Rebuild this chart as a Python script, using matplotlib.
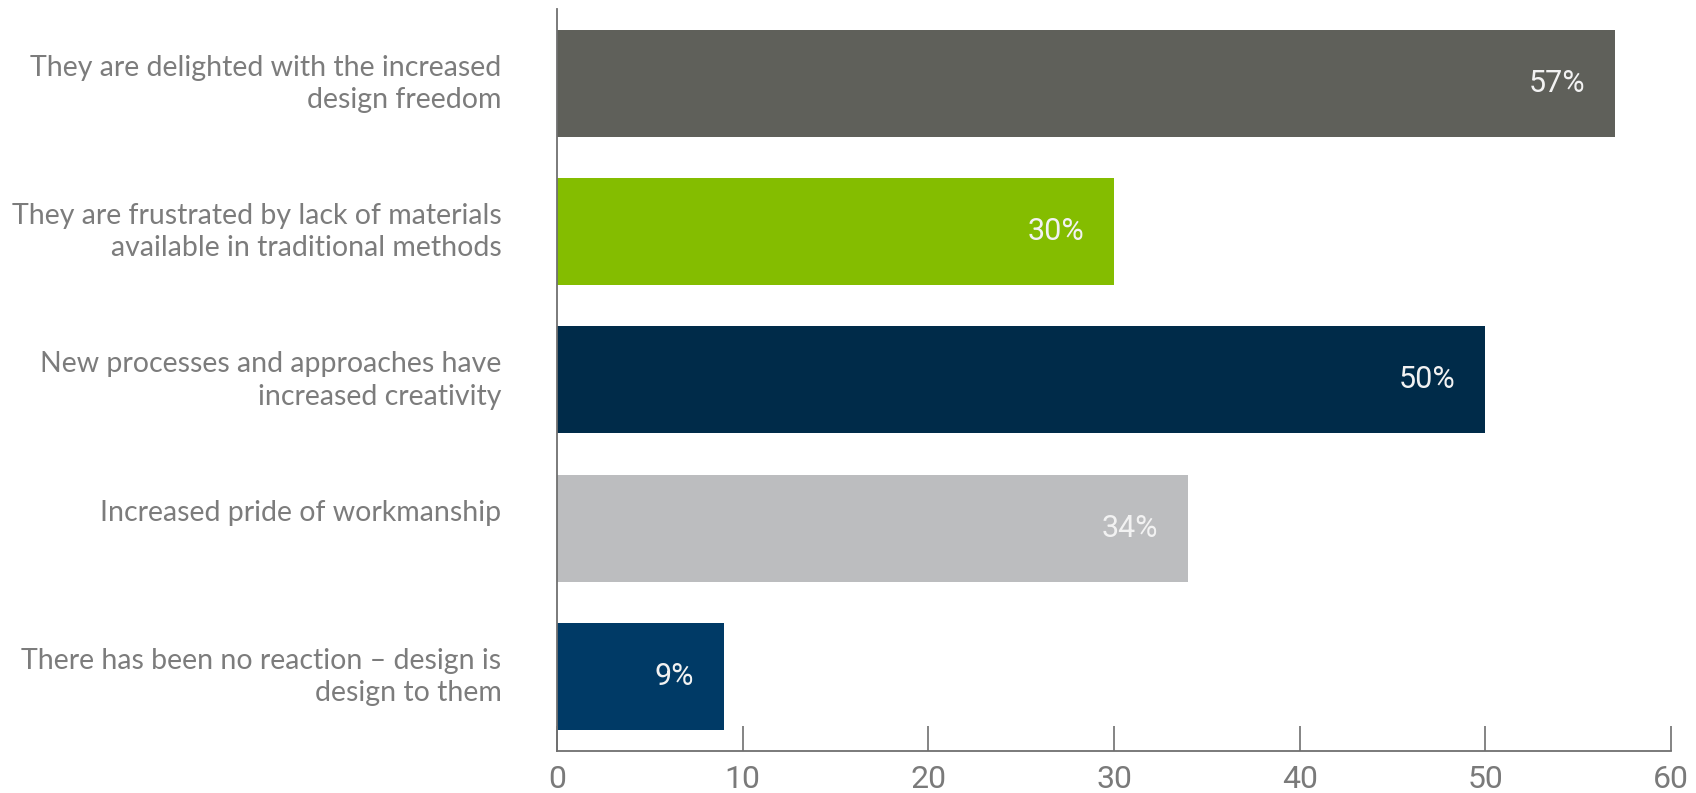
import numpy as np
import matplotlib.pyplot as plt
from matplotlib.transforms import ScaledTranslation

categories = [
    "They are delighted with the increased\ndesign freedom",
    "They are frustrated by lack of materials\navailable in traditional methods",
    "New processes and approaches have\nincreased creativity",
    "Increased pride of workmanship\n",
    "There has been no reaction \u2013 design is\ndesign to them",
]
values = [57, 30, 50, 34, 9]
colors = ["#5f605a", "#84bd00", "#002b49", "#bcbdbf", "#003a66"]
xticks = [0, 10, 20, 30, 40, 50, 60]

fig = plt.figure(figsize=(16.96, 7.93), dpi=100)
ax = fig.add_axes([0.3284, 0.0533, 0.6569, 0.9353])

y = np.arange(len(categories))
ax.barh(y, values, height=0.72, color=colors)

# percentage labels inside the bar ends
for yi, v in zip(y, values):
    ax.text(v - 1.6, yi, f"{v}%", ha="right", va="center", color="#f2f2f2",
            fontsize=22, family=["Roboto", "DejaVu Sans"])

ax.set_ylim(4.5, -0.5)
ax.set_xlim(0, 60)
ax.set_yticks(y)
ax.set_yticklabels(categories, fontsize=20.5, color="#7c7c7c",
                   family=["Lato", "DejaVu Sans"],
                   linespacing=1.3)
ax.tick_params(axis="y", length=0, pad=40)
# nudge category labels up a little
for lab in ax.get_yticklabels():
    lab.set_transform(lab.get_transform() + ScaledTranslation(0, 0.05, fig.dpi_scale_trans))

ax.set_xticks(xticks)
ax.set_xticklabels([str(t) for t in xticks], fontsize=23, color="#7a7a7a",
                   family=["Roboto", "DejaVu Sans"])
ax.tick_params(axis="x", direction="in", length=18, width=1.2, color="#6f6f6f", pad=10)

for s in ["top", "right"]:
    ax.spines[s].set_visible(False)
for s in ["left", "bottom"]:
    ax.spines[s].set_color("#6f6f6f")
    ax.spines[s].set_linewidth(1.3)

fig.savefig("out.png", dpi=100)
